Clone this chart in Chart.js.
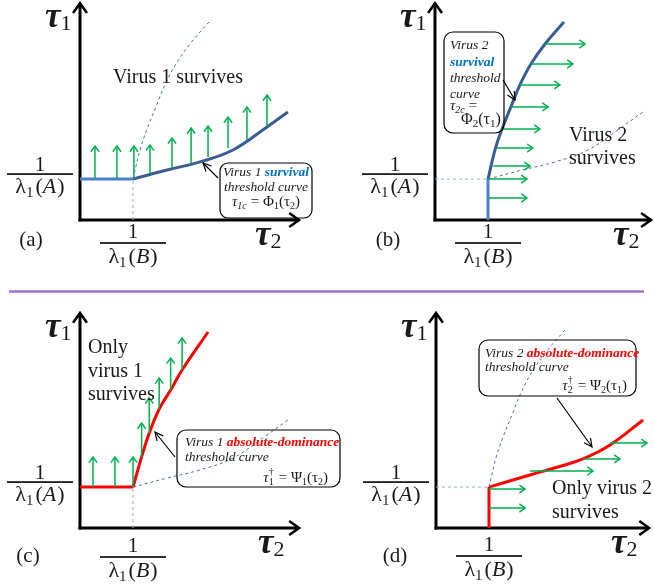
<!DOCTYPE html>
<html><head><meta charset="utf-8">
<script src="https://cdn.jsdelivr.net/npm/chart.js@4.4.1/dist/chart.umd.min.js"></script>
<style>
html,body{margin:0;padding:0;background:#fff;overflow:hidden}
#wrap{position:relative;width:654px;height:586px;background:#fff}
canvas{position:absolute;left:0;top:0}
#sep{position:absolute;left:9px;top:290px;width:635px;height:3px;background:linear-gradient(#d2c0f0,#9a6fd6 35%,#9a6fd6 70%,#d8c8f3)}
</style></head><body>
<div id="wrap">
<div id="sep"></div>
<canvas id="pa" width="654" height="586"></canvas>
<canvas id="pb" width="654" height="586"></canvas>
<canvas id="pc" width="654" height="586"></canvas>
<canvas id="pd" width="654" height="586"></canvas>
</div>
<script>
// ---------- data (τ2 = horizontal, τ1 = vertical, arbitrary units) ----------
const xB = 2.41;   // 1/λ1(B) on the τ2 axis
const yA = 1.86;   // 1/λ1(A) on the τ1 axis

// Φ1: virus 1 survival threshold curve  τ1c = Φ1(τ2)
const phi1Tau2 = [2.41, 3.95, 5.45, 6.95, 8.5, 9.45];
const phi1Tau1 = [1.86, 2.27, 2.64, 3.18, 4.23, 4.91];
// Φ2: virus 2 survival threshold curve  τ2c = Φ2(τ1)
const phi2Tau2 = [2.41, 2.75, 3.05, 3.45, 3.86, 4.36, 5.0, 5.86];
const phi2Tau1 = [1.86, 3.27, 4.14, 5.14, 6.14, 7.09, 8.0, 9.0];
// Ψ1: virus 1 absolute-dominance threshold curve
const psi1Tau2 = [2.41, 2.8, 3.15, 3.6, 4.12, 4.64, 5.82];
const psi1Tau1 = [1.86, 3.23, 4.32, 5.41, 6.27, 7.18, 8.91];
// Ψ2: virus 2 absolute-dominance threshold curve
const psi2Tau2 = [2.41, 4.27, 5.5, 6.68, 7.91, 9.41];
const psi2Tau1 = [1.86, 2.41, 2.76, 3.14, 3.77, 4.91];

// green arrows, panel (a): vertical
const arrATau2 = [0.68, 1.68, 2.45, 3.18, 4.18, 5.05, 5.82, 6.73, 7.59, 8.5];
const arrAFrom = [1.86, 1.86, 1.86, 2.09, 2.36, 2.59, 2.86, 3.27, 3.64, 4.27];
const arrATo   = [3.36, 3.36, 3.36, 3.41, 3.73, 4.18, 4.27, 4.68, 5.14, 5.68];
// panel (b): horizontal
const arrBTau1 = [1.0, 1.86, 2.45, 3.27, 4.14, 5.14, 6.14, 7.09, 8.0];
const arrBFrom = [2.45, 2.45, 2.64, 2.82, 3.05, 3.45, 3.86, 4.36, 5.0];
const arrBTo   = [4.18, 4.18, 4.32, 4.45, 4.77, 5.14, 5.68, 6.27, 6.82];
// panel (c): vertical
const arrCTau2 = [0.59, 1.59, 2.41, 2.8, 3.15, 3.6, 4.12, 4.64];
const arrCFrom = [1.86, 1.86, 1.86, 3.23, 4.32, 5.41, 6.27, 7.18];
const arrCTo   = [3.23, 3.23, 3.23, 4.77, 5.91, 6.82, 7.73, 8.64];
// panel (d): horizontal
const arrDTau1 = [0.91, 1.77, 2.59, 3.14, 3.86];
const arrDFrom = [2.41, 2.41, 4.27, 6.68, 7.91];
const arrDTo   = [4.05, 4.05, 7.14, 8.36, 9.59];

// ---------- styling ----------
const U = 22, W = 654, H = 586;
const SERIF = "'Liberation Serif','Times New Roman',serif";
const F = (sz, st) => `${st || ''} ${sz}px ${SERIF}`.trim();
const GREEN = '#00b050', BLUE_S = '#4a80c8', BLUE_C = '#3b5d91', RED = '#ff0000';
const DASH_L = '#8eb1e3', DASH_D = '#4d6fa6', TXT = '#1a1a1a', BLUE_T = '#0070c0';

const pts = (xs, ys) => xs.map((x, i) => ({x, y: ys[i]}));
const vShafts = (xs, a, b) => xs.flatMap((x, i) => [{x, y: a[i]}, {x, y: b[i]}, {x, y: null}]);
const hShafts = (ys, a, b) => ys.flatMap((y, i) => [{x: a[i], y}, {x: b[i], y}, {x: b[i], y: null}]);
const ds = (data, color, width, dash, curve, order) => ({
  data, borderColor: color, borderWidth: width, borderDash: dash || [],
  tension: curve ? 0.4 : 0, capBezierPoints: false,
  pointRadius: 0, fill: false, order, clip: false, spanGaps: false
});

function runs(ctx, items, x, y, align) {
  let total = 0;
  for (const it of items) { ctx.font = it.f; it._w = ctx.measureText(it.t).width; total += (it.adv === false ? 0 : it._w) + (it.g || 0); }
  let cx = align === 'center' ? x - total / 2 : align === 'right' ? x - total : x;
  for (const it of items) {
    ctx.font = it.f; ctx.fillStyle = it.c || TXT;
    ctx.fillText(it.t, cx + (it.dx || 0), y + (it.dy || 0));
    if (it.adv !== false) cx += it._w;
    cx += it.g || 0;
  }
}
function chevron(ctx, x, y, ang, len, spread) {
  ctx.beginPath();
  ctx.moveTo(x - len * Math.cos(ang - spread), y - len * Math.sin(ang - spread));
  ctx.lineTo(x, y);
  ctx.lineTo(x - len * Math.cos(ang + spread), y - len * Math.sin(ang + spread));
  ctx.stroke();
}
function rrect(ctx, x, y, w, h, r) {
  ctx.beginPath();
  ctx.moveTo(x + r, y); ctx.lineTo(x + w - r, y); ctx.arcTo(x + w, y, x + w, y + r, r);
  ctx.lineTo(x + w, y + h - r); ctx.arcTo(x + w, y + h, x + w - r, y + h, r);
  ctx.lineTo(x + r, y + h); ctx.arcTo(x, y + h, x, y + h - r, r);
  ctx.lineTo(x, y + r); ctx.arcTo(x, y, x + r, y, r); ctx.closePath();
  ctx.stroke();
}
function pointer(ctx, x0, y0, x1, y1) {
  ctx.save(); ctx.strokeStyle = '#000'; ctx.lineWidth = 1.2;
  ctx.beginPath(); ctx.moveTo(x0, y0); ctx.lineTo(x1, y1); ctx.stroke();
  chevron(ctx, x1, y1, Math.atan2(y1 - y0, x1 - x0), 9, 0.45);
  ctx.restore();
}

function makePanel(p) {
  const deco = {
    id: 'deco' + p.id,
    beforeDatasetsDraw(c) {
      const ctx = c.ctx, sx = c.scales.x, sy = c.scales.y;
      const ox = sx.getPixelForValue(0), oy = sy.getPixelForValue(0);
      const xe = sx.getPixelForValue(p.xLen), yt = sy.getPixelForValue(p.yLen);
      ctx.save();
      ctx.strokeStyle = '#000'; ctx.lineWidth = 3; ctx.lineJoin = 'miter';
      ctx.beginPath(); ctx.moveTo(ox, oy + 1.5); ctx.lineTo(ox, yt + 1); ctx.stroke();
      ctx.beginPath(); ctx.moveTo(ox - 1.5, oy); ctx.lineTo(xe - 1, oy); ctx.stroke();
      ctx.lineWidth = 2.6;
      chevron(ctx, ox, yt + 1, -Math.PI / 2, 12, 0.62);
      chevron(ctx, xe - 1, oy, 0, 12, 0.62);
      ctx.restore();
    },
    afterDatasetsDraw(c) {
      const ctx = c.ctx, sx = c.scales.x, sy = c.scales.y;
      const ox = sx.getPixelForValue(0), oy = sy.getPixelForValue(0);
      const xBp = sx.getPixelForValue(xB), yAp = sy.getPixelForValue(yA);
      ctx.save();
      // green arrow heads
      ctx.strokeStyle = GREEN; ctx.lineWidth = 1.5;
      if (p.vArrows) {
        const [xs, , to] = p.vArrows;
        xs.forEach((x, i) => chevron(ctx, sx.getPixelForValue(x), sy.getPixelForValue(to[i]), -Math.PI / 2, 7, 0.62));
      }
      if (p.hArrows) {
        const [ys, , to] = p.hArrows;
        ys.forEach((y, i) => chevron(ctx, sx.getPixelForValue(to[i]), sy.getPixelForValue(y), 0, 7, 0.62));
      }
      ctx.textBaseline = 'alphabetic';
      // axis titles
      runs(ctx, [{t: 'τ', f: F(35, 'italic bold')}, {t: '1', f: F(22), dy: 3, g: 0}], ox - 35, oy - p.t1dy, 'left');
      runs(ctx, [{t: 'τ', f: F(35, 'italic bold')}, {t: '2', f: F(22), dy: 3}], ox + p.t2dx, oy + p.t2dy, 'left');
      // 1/λ1(A)
      const lam = (L) => [{t: 'λ', f: F(22)}, {t: '1', f: F(15), dy: 4, g: 2}, {t: '(', f: F(22)}, {t: L, f: F(22, 'italic'), g: 1}, {t: ')', f: F(22)}];
      ctx.fillStyle = '#000';
      const ax = ox - 40, ay = yAp - 5;
      ctx.fillRect(ax - 33, ay - 0.8, 66, 1.6);
      runs(ctx, [{t: '1', f: F(21)}], ax, ay - 3, 'center');
      runs(ctx, lam('A'), ax, ay + 19, 'center');
      // 1/λ1(B)
      const by = oy + p.fbDy;
      ctx.fillStyle = '#000';
      ctx.fillRect(xBp - 33, by - 0.8, 66, 1.6);
      runs(ctx, [{t: '1', f: F(21)}], xBp, by - 5, 'center');
      runs(ctx, lam('B'), xBp, by + 20, 'center');
      // panel letter
      runs(ctx, [{t: p.letter, f: F(21)}], p.letterXY[0], p.letterXY[1], 'center');
      p.extra(ctx);
      ctx.restore();
    }
  };
  return new Chart(document.getElementById(p.id), {
    type: 'line',
    data: {datasets: p.datasets},
    options: {
      responsive: false, animation: false, events: [], devicePixelRatio: 1,
      layout: {padding: 0},
      plugins: {legend: {display: false}, tooltip: {enabled: false}},
      scales: {
        x: {type: 'linear', display: false, bounds: 'data', min: -p.ox / U, max: (W - p.ox) / U},
        y: {type: 'linear', display: false, bounds: 'data', min: -(H - p.oy) / U, max: p.oy / U}
      }
    },
    plugins: [deco]
  });
}

// ---------- panel (a) ----------
makePanel({
  id: 'pa', ox: 80, oy: 220, xLen: 10, yLen: 9.9, t1dy: 193, t2dx: 175, t2dy: 25, fbDy: 23,
  letter: '(a)', letterXY: [31, 246],
  vArrows: [arrATau2, arrAFrom, arrATo],
  datasets: [
    ds(vShafts(arrATau2, arrAFrom, arrATo), GREEN, 1.5, null, false, 1),
    ds(pts([0, xB], [yA, yA]), BLUE_S, 3, null, false, 2),
    ds(pts(phi1Tau2, phi1Tau1), BLUE_C, 3, null, true, 2),
    ds(pts([xB, xB], [0, yA]), DASH_L, 1, [3, 3], false, 3),
    ds(pts(phi2Tau2, phi2Tau1), DASH_D, 1, [3, 3], true, 3)
  ],
  extra(ctx) {
    runs(ctx, [{t: 'Virus 1 survives', f: F(20)}], 178, 83, 'center');
    ctx.strokeStyle = '#000'; ctx.lineWidth = 1.2;
    rrect(ctx, 220, 163, 92, 55, 8);
    runs(ctx, [{t: 'Virus 1 ', f: F(13.5, 'italic')}, {t: 'survival', f: F(13.5, 'italic bold'), c: BLUE_T}], 266, 176, 'center');
    runs(ctx, [{t: 'threshold curve', f: F(13.5, 'italic')}], 266, 191, 'center');
    runs(ctx, [{t: 'τ', f: F(15, 'italic')}, {t: '1c', f: F(10, 'italic'), dy: 3, g: 4}, {t: '= Φ', f: F(15)}, {t: '1', f: F(10), dy: 3},
      {t: '(τ', f: F(15)}, {t: '2', f: F(10), dy: 3}, {t: ')', f: F(15)}], 266, 206, 'center');
    pointer(ctx, 218, 178, 203, 163);
  }
});

// ---------- panel (b) ----------
makePanel({
  id: 'pb', ox: 435, oy: 220, xLen: 9.86, yLen: 9.9, t1dy: 193, t2dx: 178, t2dy: 25, fbDy: 23,
  letter: '(b)', letterXY: [388, 246],
  hArrows: [arrBTau1, arrBFrom, arrBTo],
  datasets: [
    ds(hShafts(arrBTau1, arrBFrom, arrBTo), GREEN, 1.5, null, false, 1),
    ds(pts([xB, xB], [0, yA]), BLUE_S, 3, null, false, 2),
    ds(pts(phi2Tau2, phi2Tau1), BLUE_C, 3, null, true, 2),
    ds(pts([0, xB], [yA, yA]), DASH_L, 1, [3, 3], false, 3),
    ds(pts(phi1Tau2, phi1Tau1), DASH_D, 1, [3, 3], true, 3)
  ],
  extra(ctx) {
    runs(ctx, [{t: 'Virus 2', f: F(20)}], 569, 141, 'left');
    runs(ctx, [{t: 'survives', f: F(20)}], 569, 164, 'left');
    ctx.strokeStyle = '#000'; ctx.lineWidth = 1.2;
    rrect(ctx, 444, 32, 60, 101, 9);
    const it = F(13.5, 'italic');
    runs(ctx, [{t: 'Virus 2', f: it}], 450, 49, 'left');
    runs(ctx, [{t: 'survival', f: F(13.5, 'italic bold'), c: BLUE_T}], 450, 66, 'left');
    runs(ctx, [{t: 'threshold', f: it}], 450, 82, 'left');
    runs(ctx, [{t: 'curve', f: it}], 450, 98, 'left');
    runs(ctx, [{t: 'τ', f: F(15, 'italic')}, {t: '2c', f: F(10, 'italic'), dy: 3, g: 4}, {t: '=', f: F(15)}], 450, 110, 'left');
    runs(ctx, [{t: 'Φ', f: F(16)}, {t: '2', f: F(11), dy: 3}, {t: '(τ', f: F(16)}, {t: '1', f: F(11), dy: 3}, {t: ')', f: F(16)}], 461, 124, 'left');
    pointer(ctx, 503, 80, 515, 100);
  }
});

// ---------- panel (c) ----------
makePanel({
  id: 'pc', ox: 80, oy: 528, xLen: 10, yLen: 9.82, t1dy: 191, t2dx: 178, t2dy: 25, fbDy: 29,
  letter: '(c)', letterXY: [28, 562],
  vArrows: [arrCTau2, arrCFrom, arrCTo],
  datasets: [
    ds(vShafts(arrCTau2, arrCFrom, arrCTo), GREEN, 1.5, null, false, 1),
    ds(pts([0, xB], [yA, yA]), RED, 3, null, false, 2),
    ds(pts(psi1Tau2, psi1Tau1), RED, 3, null, true, 2),
    ds(pts([xB, xB], [0, yA]), DASH_L, 1, [3, 3], false, 3),
    ds(pts(phi1Tau2, phi1Tau1), DASH_D, 1, [3, 3], true, 3)
  ],
  extra(ctx) {
    runs(ctx, [{t: 'Only', f: F(20)}], 88, 353, 'left');
    runs(ctx, [{t: 'virus 1', f: F(20)}], 88, 377, 'left');
    runs(ctx, [{t: 'survives', f: F(20)}], 88, 400, 'left');
    ctx.strokeStyle = '#000'; ctx.lineWidth = 1.2;
    rrect(ctx, 177, 430, 163, 57, 9);
    runs(ctx, [{t: 'Virus 1 ', f: F(13.5, 'italic')}, {t: 'absolute-dominance', f: F(13.5, 'italic bold'), c: RED}], 185, 446, 'left');
    runs(ctx, [{t: 'threshold curve', f: F(13.5, 'italic')}], 185, 461, 'left');
    runs(ctx, [{t: 'τ', f: F(15, 'italic')}, {t: '†', f: F(10), dy: -7, adv: false}, {t: '1', f: F(10), dy: 3, g: 5}, {t: '= Ψ', f: F(15)}, {t: '1', f: F(10), dy: 3},
      {t: '(τ', f: F(15)}, {t: '2', f: F(10), dy: 3}, {t: ')', f: F(15)}], 328, 482, 'right');
    pointer(ctx, 175, 457, 155, 432);
  }
});

// ---------- panel (d) ----------
makePanel({
  id: 'pd', ox: 436, oy: 528, xLen: 9.73, yLen: 9.82, t1dy: 191, t2dx: 175, t2dy: 25, fbDy: 28,
  letter: '(d)', letterXY: [395, 562],
  hArrows: [arrDTau1, arrDFrom, arrDTo],
  datasets: [
    ds(hShafts(arrDTau1, arrDFrom, arrDTo), GREEN, 1.5, null, false, 1),
    ds(pts([xB, xB], [0, yA]), RED, 3, null, false, 2),
    ds(pts(psi2Tau2, psi2Tau1), RED, 3, null, true, 2),
    ds(pts([0, xB], [yA, yA]), DASH_L, 1, [3, 3], false, 3),
    ds(pts(phi2Tau2, phi2Tau1), DASH_D, 1, [3, 3], true, 3)
  ],
  extra(ctx) {
    runs(ctx, [{t: 'Only virus 2', f: F(20)}], 552, 494, 'left');
    runs(ctx, [{t: 'survives', f: F(20)}], 552, 518, 'left');
    ctx.strokeStyle = '#000'; ctx.lineWidth = 1.2;
    rrect(ctx, 479, 340, 157, 56, 9);
    runs(ctx, [{t: 'Virus 2 ', f: F(13.5, 'italic')}, {t: 'absolute-dominance', f: F(13.5, 'italic bold'), c: RED}], 485, 357, 'left');
    runs(ctx, [{t: 'threshold curve', f: F(13.5, 'italic')}], 485, 371, 'left');
    runs(ctx, [{t: 'τ', f: F(15, 'italic')}, {t: '†', f: F(10), dy: -7, adv: false}, {t: '2', f: F(10), dy: 3, g: 5}, {t: '= Ψ', f: F(15)}, {t: '2', f: F(10), dy: 3},
      {t: '(τ', f: F(15)}, {t: '1', f: F(10), dy: 3}, {t: ')', f: F(15)}], 627, 390, 'right');
    pointer(ctx, 557, 398, 592, 447);
  }
});
</script>
</body></html>
